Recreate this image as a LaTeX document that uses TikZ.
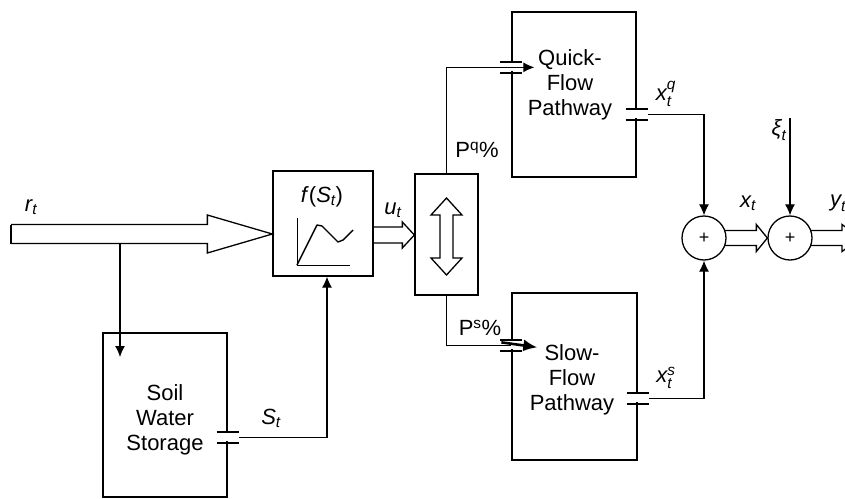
\documentclass[tikz,border=0pt]{standalone}
\usepackage{amsmath}
\usepackage{fontspec}
\setmainfont{Liberation Sans}
\usetikzlibrary{arrows.meta,positioning,calc}

\newcommand{\itvar}[2]{\ensuremath{\textit{#1}_{\textit{#2}}}}
% wide hollow arrow: start, tip, shaft half width, head half width, head length
\newcommand{\fatarrow}[5]{%
  \draw[fat] ($(#1)+(0,-#3)$) -- ($(#2)+(-#5,-#3)$) -- ($(#2)+(-#5,-#4)$) -- (#2)
    -- ($(#2)+(-#5,#4)$) -- ($(#2)+(-#5,#3)$) -- ($(#1)+(0,#3)$);}
% port mark on a box edge
\newcommand{\port}[1]{%
  \fill[white] ($(#1)+(-2.5,-4)$) rectangle ($(#1)+(2.5,4)$);
  \draw[portline] ($(#1)+(-11,-5.5)$) -- ++(22,0) ($(#1)+(-11,5.5)$) -- ++(22,0);}

\begin{document}
\begin{tikzpicture}[
  x=1pt,y=-1pt,
  box/.style={rectangle,draw=black,line width=1.3pt,inner sep=0pt},
  txt/.style={align=center,inner sep=0pt,font=\fontsize{22}{25}\selectfont},
  lbl/.style={inner sep=0pt,font=\fontsize{22}{25}\selectfont},
  sum/.style={circle,draw=black,line width=1.3pt,minimum size=44pt,inner sep=0pt,font=\fontsize{18}{18}\selectfont},
  arr/.style={-{Latex[length=11pt,width=10pt]},line width=1.1pt},
  thickarr/.style={-{Latex[length=14pt,width=12pt]},line width=2.6pt},
  fat/.style={line width=1.3pt,line join=miter},
  portline/.style={line width=1.3pt}
]
\clip (0,0) rectangle (845,498);
\fill[white] (0,0) rectangle (845,498);

% blocks
\node[box,minimum width=124pt,minimum height=164pt] (soil) at (165,415) {};
\node[box,minimum width=100pt,minimum height=105pt] (fbox) at (323,223.5) {};
\node[box,minimum width=63pt,minimum height=121pt] (switch) at (446.5,234.5) {};
\node[box,minimum width=124pt,minimum height=165pt] (quick) at (574,94.5) {};
\node[box,minimum width=125pt,minimum height=167pt] (slow) at (574.5,376.5) {};
\node[sum] (sum1) at (704,238) {+};
\node[sum] (sum2) at (790,238) {+};

\node[txt] (soiltxt) at (165,420) {Soil\\Water\\Storage};
\node[txt] (quicktxt) at (570,85) {Quick-\\Flow\\Pathway};
\node[txt] (slowtxt) at (572,380) {Slow-\\Flow\\Pathway};
\node[lbl] (ftxt) at (322,197) {\textit{f}(\itvar{S}{t})};

% response curve
\begin{scope}[shift={(fbox.center)}]
\draw[line width=1pt] (-26,-5.5) -- (-26,41.5) -- (27,41.5);
\draw[line width=1.4pt,line join=round] (-26,41.5) -- (-6,1.5) -- (-1,2.5) -- (15,18.5) -- (20,16.5) -- (30,6.5);
\end{scope}

% splitter arrow
\begin{scope}[shift={(switch.center)}]
\draw[fat] (0,-36.5) -- (15.5,-19.5) -- (6.5,-19.5) -- (6.5,23.5) -- (15.5,23.5) -- (0,40.5)
  -- (-15.5,23.5) -- (-6.5,23.5) -- (-6.5,-19.5) -- (-15.5,-19.5) -- cycle;
\end{scope}

% ports
\coordinate (soilout) at ($(soil.north east)+(0,105)$);
\coordinate (qin) at ($(quick.north west)+(0,56)$);
\coordinate (qout) at ($(quick.north east)+(0,103)$);
\coordinate (sin) at ($(slow.north west)+(0,53)$);
\coordinate (sout) at ($(slow.north east)+(0,106)$);
\port{soilout}
\port{qin}
\port{qout}
\port{sin}
\port{sout}

% wide flows
\coordinate (rstart) at (11,234);
\coordinate (rtip) at (fbox.west |- rstart);
\coordinate (ustart) at ($(fbox.east)+(0,11.5)$);
\coordinate (utip) at (switch.west |- ustart);
\coordinate (xstart) at ($(sum1.east)+(-1.5,0)$);
\coordinate (ystart) at ($(sum2.east)+(-1.5,0)$);
\coordinate (ytip) at (860,238);
\fatarrow{rstart}{rtip}{9.5}{19}{65}
\draw[fat] ($(rstart)+(0,-9.5)$) -- ($(rstart)+(0,9.5)$);
\fatarrow{ustart}{utip}{8}{13}{12}
\fatarrow{xstart}{sum2.west}{7.5}{13.5}{11}
\fatarrow{ystart}{ytip}{7.5}{13.5}{18}

% thin flows
\coordinate (rbranch) at (120,243);
\coordinate (soilin) at (120,357);
\draw[arr] (rbranch) -- (soilin);
\draw[arr] ($(soilout)+(11,0)$) -| ($(fbox.south)+(4,0)$);
\coordinate (qtip) at ($(qin)+(23,0)$);
\draw[arr] (switch.north) |- (qtip);
\draw[line width=1.1pt] (switch.south) |- (sin);
\draw[thickarr] ($(sin)+(-10,-3)$) -- ($(sin)+(26,2)$);
\draw[arr] ($(qout)+(11,0)$) -| (sum1.north);
\draw[arr] ($(sout)+(11,0)$) -| (sum1.south);
\coordinate (xi) at (790,118);
\draw[arr] (xi) -- (sum2.north);

% labels
\node[lbl] (rlab) at (31,207) {\itvar{r}{t}};
\node[lbl] (ulab) at (393,210) {\itvar{u}{t}};
\node[lbl] (slab) at (271,418) {\itvar{S}{t}};
\node[lbl] (pqlab) at (477,150) {P\textsuperscript{q}\%};
\node[lbl] (pslab) at (480,328) {P\textsuperscript{s}\%};
\node[lbl] (xqlab) at (666,94) {\ensuremath{\textit{x}_{\textit{t}}^{\textit{q}}}};
\node[lbl] (xslab) at (666,378) {\ensuremath{\textit{x}_{\textit{t}}^{\textit{s}}}};
\node[lbl] (xilab) at (779,130) {\itvar{ξ}{t}};
\node[lbl] (xlab) at (748,203) {\itvar{x}{t}};
\node[lbl] (ylab) at (838,203) {\itvar{y}{t}};
\end{tikzpicture}
\end{document}
